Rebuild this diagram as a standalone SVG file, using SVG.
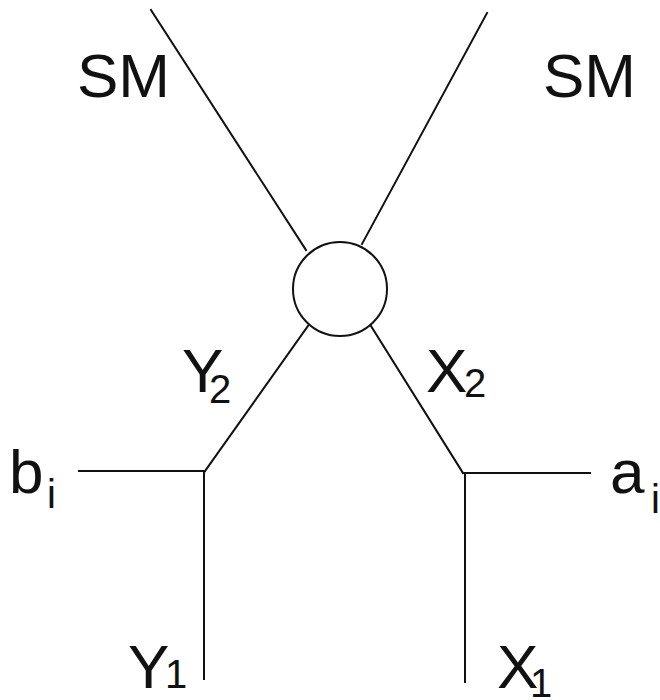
<svg xmlns="http://www.w3.org/2000/svg" width="660" height="700" viewBox="0 0 660 700">
<style>
.l{stroke:#111;stroke-width:2;fill:none;stroke-linecap:square}
.t{font-family:"Liberation Sans",Arial,sans-serif;fill:#111;font-size:62px}
.s{font-size:40px}
</style>
<rect width="660" height="700" fill="#fff"/>
<g id="connectors">
<line class="l" x1="151" y1="10" x2="306" y2="250"/>
<line class="l" x1="487" y1="13" x2="362" y2="244"/>
<line class="l" x1="308" y1="326" x2="205" y2="471"/>
<line class="l" x1="371" y1="326" x2="463" y2="473"/>
<line class="l" x1="79" y1="471" x2="205" y2="471"/>
<line class="l" x1="204" y1="471" x2="204" y2="679"/>
<line class="l" x1="463" y1="473" x2="590" y2="473"/>
<line class="l" x1="465" y1="473" x2="465" y2="682"/>
</g>
<g id="vertex"><circle class="l" cx="340" cy="289" r="47"/></g>
<g id="SM-left"><text class="t" x="77" y="97">SM</text></g>
<g id="SM-right"><text class="t" x="543" y="97">SM</text></g>
<g id="Y2"><text class="t" x="182" y="392">Y<tspan class="s" x="209" y="403">2</tspan></text></g>
<g id="X2"><text class="t" x="426" y="392">X<tspan class="s" x="464" y="397">2</tspan></text></g>
<g id="bi"><text class="t" x="9" y="493">b<tspan class="s" x="47" y="508">i</tspan></text></g>
<g id="ai"><text class="t" x="610" y="493">a<tspan class="s" x="651" y="513">i</tspan></text></g>
<g id="Y1"><text class="t" x="128" y="688">Y<tspan class="s" x="165" y="688">1</tspan></text></g>
<g id="X1"><text class="t" x="497" y="688">X<tspan class="s" x="530" y="697">1</tspan></text></g>
</svg>
